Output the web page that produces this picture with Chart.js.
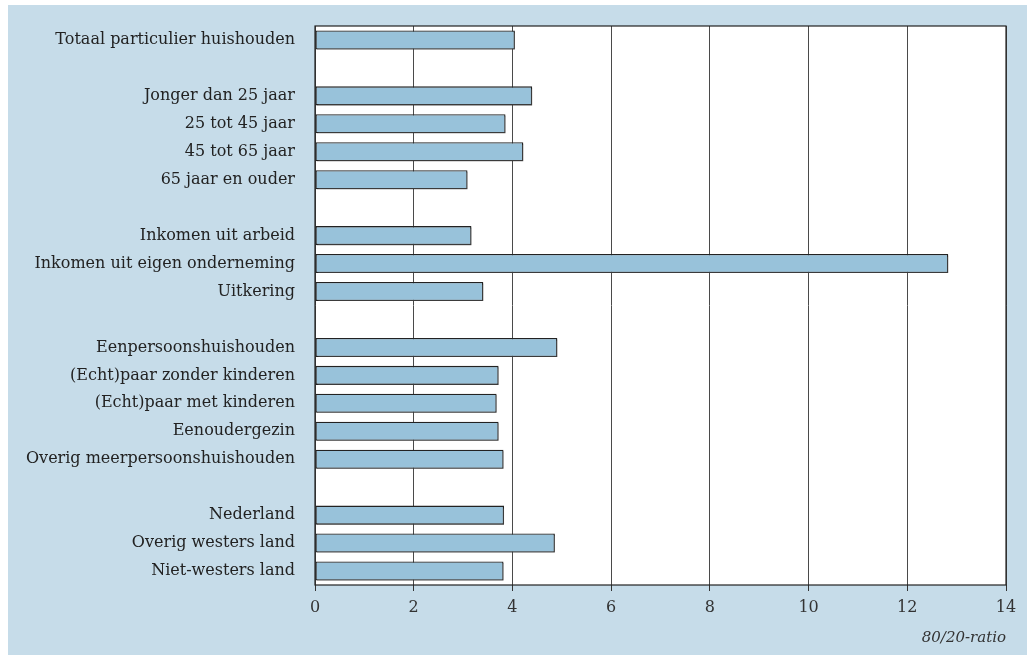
<!DOCTYPE html>
<html>
<head>
<meta charset="utf-8">
<script src="https://cdn.jsdelivr.net/npm/chart.js@4.4.0/dist/chart.umd.min.js"></script>
<style>
  html, body { margin: 0; padding: 0; background: #ffffff; }
  #wrap { position: relative; width: 1027px; height: 655px; }
</style>
</head>
<body>
<div id="wrap"><canvas id="c" width="1027" height="655"></canvas></div>
<script>
// Row labels; empty strings are the spacer rows between groups.
const categories = [
  'Totaal particulier huishouden',
  '',
  'Jonger dan 25 jaar',
  '25 tot 45 jaar',
  '45 tot 65 jaar',
  '65 jaar en ouder',
  '',
  'Inkomen uit arbeid',
  'Inkomen uit eigen onderneming',
  'Uitkering',
  '',
  'Eenpersoonshuishouden',
  '(Echt)paar zonder kinderen',
  '(Echt)paar met kinderen',
  'Eenoudergezin',
  'Overig meerpersoonshuishouden',
  '',
  'Nederland',
  'Overig westers land',
  'Niet-westers land',
];

// 80/20-ratio per row (null = spacer).
const ratio = [
  4.05,
  null,
  4.40, 3.86, 4.22, 3.09,
  null,
  3.17, 12.83, 3.41,
  null,
  4.91, 3.72, 3.68, 3.72, 3.82,
  null,
  3.83, 4.86, 3.82,
];

const xTicks = [0, 2, 4, 6, 8, 10, 12, 14];
const xTitle = '80/20-ratio';

const serif = "'DejaVu Serif', 'Liberation Serif', serif";

// Light-blue panel behind the chart, white plot frame with black border.
const panel = {
  id: 'panel',
  beforeDraw(chart) {
    const { ctx, chartArea: a } = chart;
    ctx.save();
    ctx.fillStyle = '#c6dce9';
    ctx.fillRect(8, 5, chart.width - 8, chart.height - 5);
    ctx.fillStyle = '#ffffff';
    ctx.fillRect(a.left, a.top, a.right - a.left, a.bottom - a.top);
    ctx.restore();
  },
  afterDatasetsDraw(chart) {
    const { ctx, chartArea: a } = chart;
    ctx.save();
    ctx.strokeStyle = '#222';
    ctx.lineWidth = 1.2;
    ctx.strokeRect(a.left, a.top, a.right - a.left, a.bottom - a.top);
    ctx.restore();
  },
};

// Small grey drop shadow on the bars.
const barShadow = {
  id: 'barShadow',
  beforeDatasetDraw(chart) {
    const ctx = chart.ctx;
    ctx.save();
    ctx.shadowColor = 'rgba(80,80,80,0.55)';
    ctx.shadowOffsetX = 1.5;
    ctx.shadowOffsetY = 1.5;
    ctx.shadowBlur = 0;
  },
  afterDatasetDraw(chart) {
    chart.ctx.restore();
  },
};

new Chart(document.getElementById('c'), {
  type: 'bar',
  data: {
    labels: categories,
    datasets: [{
      data: ratio,
      backgroundColor: '#98c2da',
      borderColor: '#222',
      borderWidth: 1.3,
      borderSkipped: false,
      barPercentage: 0.68,
      categoryPercentage: 1,
    }],
  },
  options: {
    indexAxis: 'y',
    responsive: false,
    animation: false,
    layout: { padding: { top: 26, right: 21, left: 0, bottom: 0 } },
    plugins: {
      legend: { display: false },
      tooltip: { enabled: false },
    },
    scales: {
      x: {
        type: 'linear',
        min: 0,
        max: 14,
        afterBuildTicks(scale) {
          scale.ticks = xTicks.map(v => ({ value: v }));
        },
        afterFit(scale) { scale.height = 70; },
        grid: {
          color: '#4a4a4a',
          lineWidth: 1,
          drawTicks: true,
          tickLength: 6,
          tickColor: '#333',
        },
        border: { display: false },
        ticks: {
          color: '#333',
          font: { family: serif, size: 16 },
          padding: 7,
        },
        title: {
          display: true,
          text: xTitle,
          align: 'end',
          color: '#333',
          font: { family: serif, size: 15, style: 'italic' },
          padding: { top: 2, bottom: 8 },
        },
      },
      y: {
        afterFit(scale) { scale.width = 315; },
        grid: { display: false },
        border: { display: false },
        ticks: {
          color: '#222',
          font: { family: serif, size: 16 },
          padding: 12,
          autoSkip: false,
        },
      },
    },
  },
  plugins: [panel, barShadow],
});
</script>
</body>
</html>
